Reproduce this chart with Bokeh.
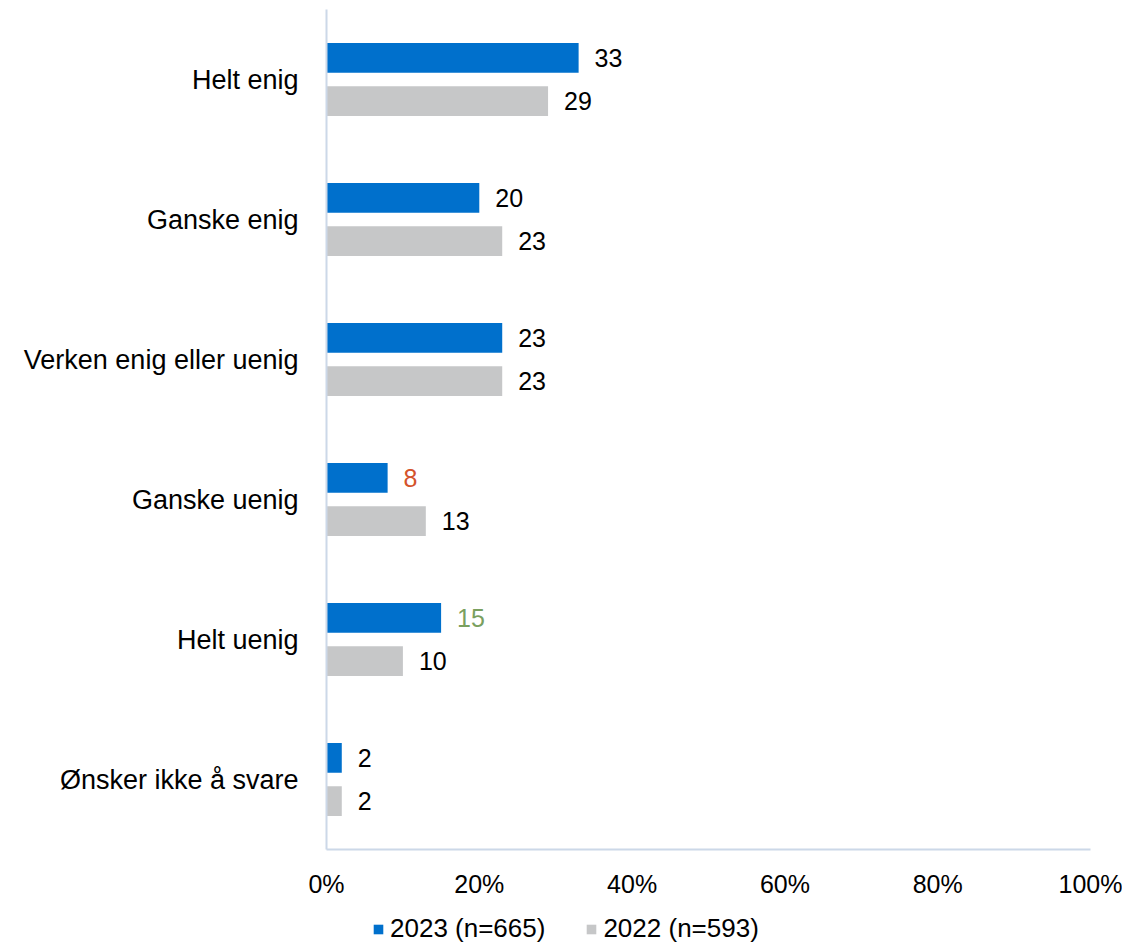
from bokeh.plotting import figure
from bokeh.layouts import column
from bokeh.models import ColumnDataSource, FactorRange, FixedTicker, Legend, LegendItem
from bokeh.transform import dodge
from bokeh.embed import file_html
from bokeh.resources import INLINE

categories = ["Helt enig", "Ganske enig", "Verken enig eller uenig",
              "Ganske uenig", "Helt uenig", "Ønsker ikke å svare"]
values_2023 = [33, 20, 23, 8, 15, 2]
values_2022 = [29, 23, 23, 13, 10, 2]
label_colors_2023 = ["#000000", "#000000", "#000000", "#D4532B", "#7AA05F", "#000000"]
label_colors_2022 = ["#000000"] * 6
series_names = ["2023 (n=665)", "2022 (n=593)"]
x_ticks = [0, 20, 40, 60, 80, 100]
x_tick_labels = ["0%", "20%", "40%", "60%", "80%", "100%"]

BLUE = "#0070CC"
GREY = "#C6C7C8"
AXIS = "#CCD8E8"
FONT = "Liberation Sans"
FS = "25px"

src = ColumnDataSource(dict(
    cat=categories,
    v23=values_2023,
    v22=values_2022,
    t23=[str(v) for v in values_2023],
    t22=[str(v) for v in values_2022],
    c23=label_colors_2023,
    c22=label_colors_2022,
))

p = figure(width=1122, height=910, output_backend="svg", toolbar_location=None,
           y_range=FactorRange(factors=list(reversed(categories)), range_padding=0),
           x_range=(0, 100),
           min_border_left=326, min_border_right=32, min_border_top=9,
           min_border_bottom=61)
p.outline_line_color = None
p.xgrid.visible = False
p.ygrid.visible = False
p.y_range.range_padding = 0

off = 0.154
h = 0.212
p.hbar(y=dodge("cat", off, range=p.y_range), right="v23", left=0, height=h,
       source=src, fill_color=BLUE, line_color=None)
p.hbar(y=dodge("cat", -off, range=p.y_range), right="v22", left=0, height=h,
       source=src, fill_color=GREY, line_color=None)

p.text(x="v23", y=dodge("cat", off, range=p.y_range), text="t23", source=src,
       x_offset=16, text_align="left", text_baseline="middle",
       text_font={"value": FONT}, text_font_size=FS, text_color="c23")
p.text(x="v22", y=dodge("cat", -off, range=p.y_range), text="t22", source=src,
       x_offset=16, text_align="left", text_baseline="middle",
       text_font={"value": FONT}, text_font_size=FS, text_color="c22")

xa = p.xaxis[0]
xa.ticker = FixedTicker(ticks=x_ticks)
xa.major_label_overrides = {t: l for t, l in zip(x_ticks, x_tick_labels)}
xa.major_tick_line_color = None
xa.minor_tick_line_color = None
xa.axis_line_color = AXIS
xa.axis_line_width = 2
xa.major_label_standoff = 14
xa.major_label_text_font = FONT
xa.major_label_text_font_size = FS
xa.major_label_text_color = "#000000"

ya = p.yaxis[0]
ya.major_tick_line_color = None
ya.minor_tick_line_color = None
ya.axis_line_color = AXIS
ya.axis_line_width = 2
ya.major_label_standoff = 22
ya.major_label_text_font = FONT
ya.major_label_text_font_size = "27px"
ya.major_label_text_color = "#000000"

# legend strip below the chart (swatches come from zero-size bars)
lg = figure(width=1122, height=34, output_backend="svg", toolbar_location=None,
            x_range=(0, 1), y_range=(0, 1),
            min_border_left=326, min_border_right=32, min_border_top=0, min_border_bottom=0)
lg.axis.visible = False
lg.grid.visible = False
lg.outline_line_color = None
hidden = ColumnDataSource(dict(y=[0.5], l=[0.5], r=[0.5]))
d23 = lg.hbar(y="y", right="r", left="l", height=0, source=hidden,
              fill_color=BLUE, line_color=None)
d22 = lg.hbar(y="y", right="r", left="l", height=0, source=hidden,
              fill_color=GREY, line_color=None)
legend = Legend(items=[LegendItem(label=series_names[0], renderers=[d23], index=0),
                       LegendItem(label=series_names[1], renderers=[d22], index=0)],
                orientation="horizontal", location=(46, 0),
                glyph_width=12, glyph_height=12, label_standoff=6, spacing=40,
                padding=0, margin=0, border_line_color=None,
                background_fill_alpha=0,
                label_text_font=FONT, label_text_font_size="26px",
                label_text_color="#000000")
lg.add_layout(legend, "center")

layout = column(p, lg, spacing=0)
open("out.html", "w").write(file_html(layout, INLINE))
